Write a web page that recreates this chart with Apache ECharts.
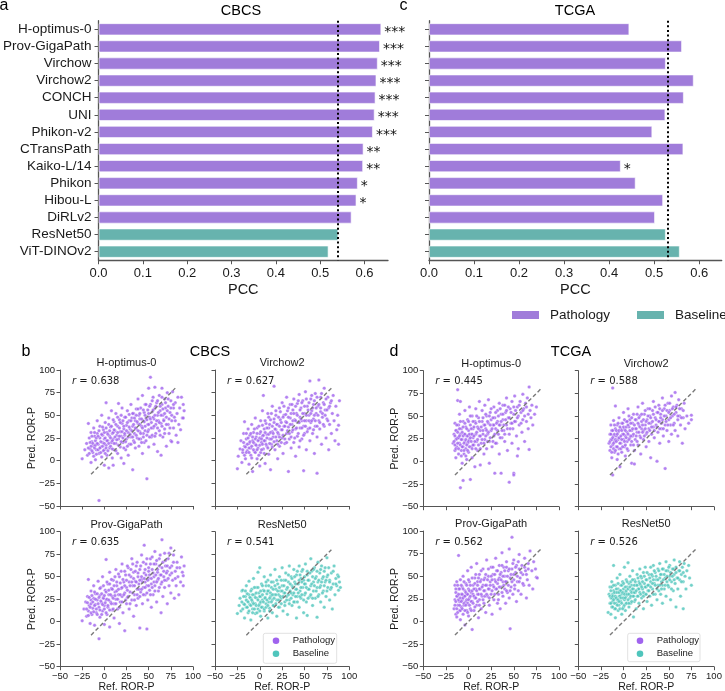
<!DOCTYPE html>
<html><head><meta charset="utf-8">
<script src="https://cdn.jsdelivr.net/npm/echarts@6/dist/echarts.min.js"></script>
<style>html,body{margin:0;padding:0;background:#fff}#c{width:725px;height:691px}</style>
</head><body><div id="c"></div>
<script>
// ---------- data ----------
const models = ['H-optimus-0','Prov-GigaPath','Virchow','Virchow2','CONCH','UNI','Phikon-v2','CTransPath','Kaiko-L/14','Phikon','Hibou-L','DiRLv2','ResNet50','ViT-DINOv2'];
const modelGroup = ['Pathology','Pathology','Pathology','Pathology','Pathology','Pathology','Pathology','Pathology','Pathology','Pathology','Pathology','Pathology','Baseline','Baseline'];
const cbcsPCC = [0.638,0.635,0.630,0.627,0.625,0.623,0.619,0.598,0.597,0.585,0.582,0.571,0.541,0.519];
const cbcsSig = ['***','***','***','***','***','***','***','**','**','*','*','','',''];
const tcgaPCC = [0.445,0.562,0.526,0.588,0.566,0.525,0.496,0.565,0.426,0.459,0.520,0.502,0.526,0.557];
const tcgaSig = ['','','','','','','','','*','','','','',''];
const cbcsRefLine = 0.541;
const tcgaRefLine = 0.526;
const pccTicks = [0,0.1,0.2,0.3,0.4,0.5,0.6];
const rorTicks = [-50,-25,0,25,50,75,100];
const identityLine = [[-15,-15],[80,80]];
const scatterTitles = ['H-optimus-0','Virchow2','Prov-GigaPath','ResNet50'];
const cbcsR = ['0.638','0.627','0.635','0.541'];
const tcgaR = ['0.445','0.588','0.562','0.526'];

const cbcsHopt = [[-25,2],[-22,12],[-20,19],[-19,6],[-18,41],[-17,25],[-16,13],[-15,31],[-15,-2],[-14,21],[-13,9],[-12,36],[-12,16],[-11,27],[-10,1],[-10,22],[-9,12],[-8,30],[-8,44],[-7,18],[-6,-44],[-6,8],[-5,25],[-5,38],[-4,15],[-3,50],[-3,4],[-2,28],[-2,20],[-1,34],[0,-5],[0,12],[0,24],[1,42],[2,64],[2,17],[3,31],[3,6],[4,22],[5,47],[5,-8],[6,27],[6,14],[7,37],[8,20],[8,55],[9,3],[9,30],[10,-5],[10,24],[11,43],[11,12],[12,33],[13,19],[13,52],[14,28],[15,8],[15,38],[16,63],[16,24],[17,45],[18,15],[18,32],[19,3],[19,27],[20,41],[20,58],[21,20],[22,-3],[22,35],[23,28],[23,48],[24,12],[25,39],[25,24],[26,55],[27,31],[27,6],[28,44],[28,18],[29,35],[30,62],[30,26],[31,47],[32,-10],[32,38],[33,22],[33,52],[34,30],[35,14],[35,44],[36,57],[36,35],[37,25],[38,68],[38,41],[39,50],[39,16],[40,32],[40,46],[41,58],[41,24],[42,38],[43,72],[43,8],[44,44],[44,30],[45,53],[45,20],[46,62],[46,38],[47,47],[48,28],[48,-20],[49,56],[49,40],[50,80],[50,34],[50,15],[51,48],[52,92],[52,62],[53,26],[53,42],[54,54],[55,36],[55,70],[56,18],[56,46],[57,81],[57,58],[58,30],[58,40],[59,64],[60,50],[60,10],[61,44],[62,72],[62,33],[63,55],[64,6],[64,41],[65,80],[65,62],[66,26],[66,50],[67,45],[68,68],[68,35],[69,58],[70,16],[70,48],[71,75],[72,40],[72,60],[73,30],[74,53],[75,66],[75,22],[76,21],[76,44],[77,76],[78,58],[78,36],[79,48],[80,64],[81,28],[82,52],[83,20],[83,70],[84,40],[85,58],[86,34],[87,70],[88,47],[89,47],[90,55],[89,62]];
const cbcsHoptCore = [[-18,14],[-17,8],[-16,20],[-15,16],[-14,11],[-14,27],[-13,19],[-12,5],[-11,14],[-11,31],[-10,17],[-9,25],[-9,7],[-8,19],[-7,12],[-7,27],[-6,33],[-5,14],[-4,21],[-4,9],[-3,29],[-2,16],[-2,37],[-1,11],[0,19],[0,31],[1,25],[1,8],[2,14],[2,36],[3,22],[4,29],[4,11],[5,19],[5,40],[6,33],[7,16],[7,25],[8,38],[9,13],[9,22],[10,31],[10,45],[11,19],[11,34],[12,26],[13,11],[13,40],[14,23],[15,31],[15,48],[16,17],[17,36],[17,27],[18,42],[19,21],[19,50],[20,32],[21,25],[21,44],[22,14],[22,38],[23,30],[24,48],[24,21],[25,33],[26,42],[26,16],[27,26],[28,51],[28,37],[29,29],[30,44],[30,18],[31,33],[32,52],[32,26],[33,40],[34,47],[34,20],[35,36],[36,28],[36,50],[37,43],[38,33],[38,57],[39,24],[40,40],[40,52],[41,30],[42,46],[42,20],[43,36],[44,56],[44,26],[45,43],[46,33],[46,50],[47,62],[47,22],[48,45],[49,32],[50,52],[50,40],[51,26],[51,60],[52,46],[53,36],[54,66],[54,28],[55,48],[55,56],[56,38],[57,50],[57,27],[58,60],[59,44],[60,36],[60,66],[61,53],[62,42],[63,60],[63,28],[64,50],[65,70],[65,38],[66,57],[67,44],[68,52],[68,30],[69,64],[70,40],[71,55],[72,68],[73,46],[74,36],[75,58],[76,50],[78,62],[80,44]];
const cbcsV2 = [[-25,-9],[-24,5],[-22,13],[-21,22],[-20,-2],[-19,9],[-18,30],[-17,43],[-17,16],[-16,2],[-15,24],[-14,11],[-13,35],[-12,-4],[-12,19],[-11,28],[-10,6],[-10,14],[-9,40],[-8,22],[-8,-12],[-7,31],[-6,10],[-5,18],[-5,47],[-4,26],[-3,2],[-3,36],[-2,14],[-1,23],[0,-6],[0,30],[1,9],[1,44],[2,20],[3,55],[3,27],[4,72],[4,13],[5,35],[6,-3],[6,22],[7,41],[8,16],[8,29],[9,52],[10,7],[10,36],[11,24],[12,45],[12,-10],[13,18],[14,60],[14,32],[15,26],[16,82],[16,42],[17,12],[18,34],[18,50],[19,22],[20,2],[20,40],[21,29],[22,58],[22,16],[23,45],[24,34],[25,25],[25,64],[26,8],[27,38],[27,50],[28,19],[29,43],[30,30],[30,70],[31,55],[32,-12],[32,37],[33,24],[34,47],[34,62],[35,14],[36,40],[36,32],[37,56],[38,68],[38,20],[39,45],[40,35],[40,5],[41,52],[42,27],[42,63],[43,42],[44,73],[44,15],[45,48],[45,36],[46,58],[47,24],[47,44],[48,66],[49,-11],[49,38],[50,52],[50,30],[51,76],[52,44],[52,12],[53,60],[54,35],[55,50],[56,88],[56,22],[57,68],[57,42],[58,55],[59,30],[60,62],[60,46],[61,8],[62,38],[62,74],[63,52],[64,-14],[64,26],[65,60],[66,89],[66,44],[67,35],[68,70],[68,54],[69,18],[70,48],[71,64],[72,38],[72,80],[73,56],[74,25],[75,46],[76,70],[77,12],[77,58],[78,40],[79,64],[80,30],[81,52],[82,72],[83,44],[84,22],[85,60],[86,34],[87,50],[88,39],[88,18],[89,66]];
const cbcsV2Core = [[-19,12],[-18,20],[-17,6],[-16,15],[-15,9],[-15,30],[-14,18],[-13,25],[-12,9],[-12,14],[-11,21],[-10,30],[-9,16],[-9,3],[-8,26],[-7,12],[-7,20],[-6,35],[-5,9],[-5,24],[-4,17],[-3,30],[-3,12],[-2,22],[-1,38],[-1,6],[0,17],[0,25],[1,32],[2,12],[2,24],[3,39],[3,18],[4,28],[5,8],[5,22],[6,44],[6,31],[7,18],[8,25],[8,36],[9,14],[10,29],[10,48],[11,19],[11,40],[12,31],[13,24],[13,52],[14,15],[14,38],[15,30],[16,21],[16,46],[17,35],[18,26],[18,55],[19,40],[20,18],[20,31],[21,48],[22,38],[22,26],[23,54],[24,20],[24,42],[25,34],[26,48],[26,28],[27,60],[28,38],[28,24],[29,51],[30,42],[30,20],[31,33],[32,48],[32,58],[33,30],[34,40],[35,52],[35,26],[36,62],[37,44],[37,34],[38,52],[39,25],[40,44],[40,60],[41,36],[42,50],[43,30],[43,66],[44,42],[45,56],[45,22],[46,46],[47,36],[47,64],[48,52],[49,28],[50,44],[50,60],[51,38],[52,68],[52,50],[53,32],[54,56],[55,44],[55,64],[56,36],[57,52],[58,72],[58,44],[59,58],[60,34],[61,50],[61,66],[62,44],[63,58],[64,38],[64,70],[65,50],[66,62],[67,42],[68,58],[69,74],[70,52],[71,40],[72,62],[73,50],[74,68],[75,56],[76,44],[78,60],[80,66]];
const cbcsPG = [[-25,1],[-23,14],[-21,22],[-20,6],[-19,28],[-18,47],[-18,12],[-17,18],[-16,-2],[-15,34],[-15,24],[-14,8],[-13,15],[-12,40],[-12,26],[-11,-4],[-10,19],[-10,31],[-9,10],[-8,24],[-7,45],[-6,-19],[-6,16],[-5,29],[-5,5],[-4,38],[-3,21],[-2,12],[-2,50],[-1,27],[0,-3],[0,18],[1,35],[2,69],[2,24],[3,8],[4,42],[4,16],[5,30],[6,55],[6,-6],[7,22],[8,37],[9,13],[9,28],[10,46],[11,20],[11,4],[12,33],[13,58],[13,25],[14,40],[15,14],[16,30],[17,50],[17,-2],[18,22],[19,37],[20,64],[20,28],[21,10],[22,44],[23,-10],[23,32],[24,52],[25,20],[25,38],[26,27],[27,60],[28,44],[28,14],[29,33],[30,50],[31,24],[31,70],[32,40],[33,6],[33,55],[34,30],[35,45],[36,18],[36,62],[37,36],[38,50],[38,26],[39,42],[40,-7],[40,58],[41,33],[42,74],[42,47],[43,20],[44,38],[45,85],[45,54],[46,30],[46,44],[47,64],[48,-8],[48,40],[49,24],[50,56],[50,48],[51,35],[52,70],[53,42],[53,16],[54,58],[55,30],[56,50],[57,78],[57,40],[58,64],[59,22],[60,46],[60,55],[61,34],[62,70],[63,52],[64,10],[64,42],[65,91],[65,60],[66,28],[67,50],[68,76],[68,38],[69,62],[70,46],[71,20],[71,56],[72,70],[73,40],[74,52],[75,82],[75,32],[76,62],[77,46],[78,74],[79,26],[80,56],[81,40],[82,66],[83,50],[84,30],[85,60],[86,44],[87,72],[88,55],[89,40],[89,51],[90,62]];
const cbcsPGCore = [[-20,14],[-19,21],[-18,7],[-17,27],[-16,16],[-15,10],[-15,20],[-14,29],[-13,22],[-12,11],[-11,18],[-11,33],[-10,25],[-9,14],[-8,31],[-8,8],[-7,20],[-6,27],[-5,37],[-5,13],[-4,23],[-3,31],[-3,8],[-2,19],[-1,26],[-1,40],[0,14],[0,29],[1,21],[2,33],[2,10],[3,25],[3,44],[4,18],[5,35],[5,24],[6,13],[6,42],[7,30],[8,20],[8,47],[9,36],[10,26],[10,14],[11,40],[12,29],[12,50],[13,20],[14,34],[14,44],[15,25],[16,53],[16,36],[17,16],[18,43],[18,30],[19,56],[20,22],[20,38],[21,47],[22,30],[23,56],[23,40],[24,24],[25,46],[26,35],[26,62],[27,28],[28,52],[29,40],[29,20],[30,58],[31,44],[32,32],[32,64],[33,48],[34,24],[34,40],[35,56],[36,44],[37,30],[37,66],[38,54],[39,36],[40,46],[40,28],[41,62],[42,50],[42,36],[43,44],[44,66],[44,30],[45,48],[46,58],[46,38],[47,52],[48,70],[48,32],[49,46],[50,60],[50,40],[51,52],[52,30],[52,64],[53,48],[54,38],[54,72],[55,54],[56,44],[56,64],[57,34],[58,52],[59,68],[59,44],[60,58],[61,48],[62,38],[62,62],[63,74],[64,52],[65,44],[66,66],[67,56],[68,46],[69,68],[70,54],[71,62],[72,48],[73,76],[74,60],[76,54],[78,66],[80,48],[82,60]];
const cbcsR50 = [[-25,9],[-23,18],[-22,26],[-21,12],[-20,34],[-19,35],[-18,20],[-17,4],[-16,28],[-15,16],[-15,40],[-14,23],[-13,10],[-12,30],[-12,45],[-11,19],[-10,26],[-10,2],[-9,36],[-8,14],[-8,22],[-7,48],[-6,30],[-5,9],[-5,20],[-4,38],[-3,26],[-2,14],[-2,55],[-1,32],[0,60],[0,20],[1,6],[1,28],[2,42],[3,16],[3,24],[4,35],[5,50],[5,12],[6,27],[7,20],[7,40],[8,31],[9,4],[9,46],[10,22],[10,34],[11,15],[12,28],[12,52],[13,38],[14,24],[14,10],[15,44],[16,30],[16,18],[17,58],[18,36],[19,24],[19,6],[20,42],[21,30],[22,50],[22,16],[23,34],[24,26],[25,60],[25,40],[26,12],[27,32],[27,46],[28,22],[29,54],[30,36],[30,28],[31,8],[32,44],[33,62],[33,24],[34,34],[35,50],[36,18],[36,40],[37,30],[38,58],[39,44],[39,22],[40,36],[41,4],[41,52],[42,28],[43,42],[44,62],[44,16],[45,34],[46,48],[46,26],[47,56],[48,38],[49,10],[49,46],[50,30],[51,64],[51,42],[52,22],[53,7],[53,52],[54,36],[55,46],[56,28],[57,70],[57,40],[58,56],[59,18],[60,44],[60,34],[61,60],[62,26],[63,50],[64,5],[64,38],[65,66],[65,44],[66,30],[67,54],[68,22],[68,40],[69,62],[70,48],[71,34],[72,16],[72,56],[73,44],[74,28],[75,71],[75,50],[76,38],[77,60],[78,24],[78,46],[79,36],[80,54],[81,14],[82,42],[83,62],[84,30],[85,48],[86,40],[87,52],[88,50],[88,35],[89,44],[90,38]];
const cbcsR50Core = [[-20,22],[-19,14],[-18,28],[-17,19],[-16,34],[-15,24],[-14,16],[-14,31],[-13,22],[-12,12],[-11,27],[-10,34],[-10,18],[-9,24],[-8,10],[-8,30],[-7,20],[-6,38],[-6,14],[-5,27],[-4,18],[-4,32],[-3,10],[-2,24],[-2,38],[-1,18],[0,28],[0,12],[1,34],[1,22],[2,16],[3,30],[3,40],[4,22],[5,14],[5,34],[6,26],[7,44],[7,16],[8,24],[9,34],[9,18],[10,40],[11,26],[11,12],[12,32],[13,22],[13,44],[14,30],[15,18],[15,36],[16,26],[17,40],[18,20],[18,30],[19,46],[20,34],[21,24],[21,16],[22,38],[23,28],[24,46],[24,20],[25,34],[26,28],[27,40],[28,18],[28,32],[29,46],[30,24],[31,38],[32,30],[32,52],[33,20],[34,42],[35,32],[35,26],[36,48],[37,38],[38,22],[38,32],[39,50],[40,28],[40,42],[41,36],[42,56],[42,22],[43,32],[44,46],[45,28],[45,52],[46,38],[47,30],[47,44],[48,58],[49,24],[50,42],[50,50],[51,32],[52,38],[53,56],[54,26],[54,46],[55,36],[56,54],[57,30],[58,42],[59,50],[59,26],[60,58],[61,40],[62,48],[63,34],[64,56],[65,28],[66,46],[67,38],[68,58],[69,44],[70,32],[71,50],[72,40],[73,60],[74,46],[75,34],[76,52],[78,44],[80,38],[82,56],[85,42]];
const tcgaHopt = [[-17,20],[-16,30],[-15,12],[-15,42],[-14,24],[-14,4],[-13,34],[-13,16],[-12,79],[-12,67],[-12,26],[-11,8],[-11,40],[-10,20],[-10,52],[-9,66],[-9,-29],[-9,30],[-8,12],[-8,36],[-7,24],[-7,-2],[-6,-21],[-6,44],[-6,16],[-5,30],[-5,8],[-4,22],[-4,56],[-3,38],[-3,14],[-2,28],[-2,2],[-1,46],[-1,20],[0,34],[0,10],[1,24],[1,60],[2,-20],[2,40],[3,16],[3,30],[4,50],[4,4],[5,26],[5,36],[6,18],[7,44],[7,-6],[8,30],[8,58],[9,22],[10,38],[10,12],[11,48],[12,28],[12,66],[13,-4],[13,34],[14,20],[15,44],[15,56],[16,30],[17,8],[17,40],[18,62],[18,24],[19,36],[20,50],[20,14],[21,30],[22,68],[22,42],[23,-2],[23,22],[24,54],[25,34],[25,46],[26,16],[27,40],[28,60],[28,28],[29,-13],[29,48],[30,36],[31,20],[32,56],[32,44],[33,30],[34,64],[34,8],[35,40],[36,-13],[36,52],[37,26],[38,46],[38,62],[39,34],[40,22],[41,54],[42,40],[42,70],[43,12],[44,48],[45,-23],[45,30],[46,58],[47,42],[48,66],[48,20],[49,36],[50,-13],[50,-15],[50,52],[51,72],[52,44],[53,28],[54,60],[54,6],[55,50],[55,14],[56,40],[57,66],[58,54],[59,32],[60,74],[60,46],[61,58],[62,22],[63,64],[64,44],[65,70],[66,36],[67,82],[67,13],[68,56],[69,48],[70,62],[71,40],[73,52],[75,60]];
const tcgaHoptCore = [[-16,22],[-15,28],[-15,18],[-14,34],[-14,14],[-13,25],[-13,40],[-12,20],[-12,32],[-11,14],[-11,26],[-10,36],[-10,28],[-9,18],[-9,44],[-8,24],[-8,6],[-7,32],[-7,16],[-6,28],[-6,38],[-5,20],[-5,12],[-4,30],[-4,42],[-3,24],[-3,6],[-2,36],[-2,18],[-1,28],[-1,12],[0,22],[0,44],[1,30],[1,16],[2,26],[2,50],[3,36],[3,22],[4,14],[4,30],[5,44],[5,18],[6,28],[6,38],[7,22],[8,14],[8,42],[9,32],[9,50],[10,24],[11,36],[11,18],[12,44],[13,28],[13,14],[14,38],[15,24],[16,48],[16,34],[17,20],[18,40],[19,28],[19,52],[20,34],[21,22],[21,44],[22,32],[23,50],[24,26],[24,40],[25,58],[26,36],[27,22],[27,48],[28,40],[29,30],[30,54],[30,20],[31,42],[32,34],[33,50],[34,40],[35,26],[35,58],[36,44],[37,34],[38,52],[39,40],[40,30],[40,62],[41,46],[42,56],[43,36],[44,60],[45,48],[46,36],[47,54],[48,42],[50,60],[51,44],[52,56],[54,48],[56,62],[58,42],[60,56],[62,50],[64,60],[66,52]];
const tcgaV2 = [[-16,20],[-15,30],[-15,12],[-14,40],[-14,24],[-13,4],[-13,34],[-12,81],[-12,-15],[-12,18],[-11,28],[-11,45],[-10,10],[-10,22],[-9,61],[-9,36],[-8,16],[-8,28],[-7,2],[-7,40],[-6,24],[-6,32],[-5,14],[-5,48],[-4,26],[-4,-6],[-3,36],[-3,20],[-2,42],[-2,10],[-1,30],[0,24],[0,54],[1,16],[1,36],[2,28],[2,6],[3,44],[4,22],[4,32],[5,58],[5,12],[6,38],[7,26],[7,46],[8,18],[9,34],[9,-2],[10,42],[10,28],[11,52],[12,12],[12,-3],[13,36],[13,24],[14,46],[15,32],[16,60],[16,18],[17,40],[18,28],[18,50],[19,8],[20,36],[20,44],[21,64],[22,24],[22,34],[23,52],[24,40],[25,16],[25,30],[26,46],[27,58],[28,36],[28,22],[29,50],[30,42],[30,4],[31,30],[32,56],[33,38],[33,66],[34,26],[35,48],[36,40],[37,0],[37,54],[38,32],[39,62],[40,44],[40,20],[41,52],[42,36],[43,70],[43,46],[44,28],[45,58],[46,-8],[46,40],[47,50],[48,34],[49,64],[50,46],[50,22],[51,56],[52,40],[53,72],[53,30],[54,50],[55,60],[56,42],[57,76],[57,34],[58,54],[59,62],[60,46],[60,28],[61,68],[62,50],[63,40],[64,58],[65,20],[66,48],[67,64],[68,36],[70,50],[72,42],[75,51],[75,46]];
const tcgaV2Core = [[-15,22],[-14,16],[-14,30],[-13,24],[-13,10],[-12,34],[-12,26],[-11,20],[-11,14],[-10,30],[-10,40],[-9,24],[-9,12],[-8,34],[-8,22],[-7,30],[-7,16],[-6,42],[-6,8],[-5,26],[-5,34],[-4,20],[-4,38],[-3,28],[-3,14],[-2,34],[-2,24],[-1,42],[-1,16],[0,30],[0,38],[1,22],[1,46],[2,34],[2,18],[3,26],[3,38],[4,44],[4,14],[5,30],[5,40],[6,24],[6,50],[7,34],[8,28],[8,42],[9,22],[9,48],[10,36],[11,30],[11,18],[12,40],[13,46],[14,28],[14,36],[15,52],[15,22],[16,42],[17,32],[17,48],[18,38],[19,26],[20,52],[21,40],[21,32],[22,46],[23,28],[24,56],[24,36],[25,44],[26,32],[27,50],[28,42],[29,34],[29,58],[30,48],[31,38],[32,44],[33,52],[34,34],[35,60],[36,46],[37,38],[38,54],[39,44],[40,36],[40,58],[41,48],[42,42],[43,56],[44,36],[45,50],[46,62],[47,44],[48,56],[49,40],[50,54],[51,64],[52,48],[54,58],[55,40],[56,52],[58,60],[60,50],[62,58],[64,48],[66,56]];
const tcgaPG = [[-16,14],[-15,40],[-15,24],[-14,8],[-14,32],[-13,5],[-13,44],[-12,18],[-12,28],[-11,73],[-11,36],[-10,12],[-10,22],[-9,46],[-9,2],[-8,30],[-8,16],[-7,38],[-7,24],[-6,8],[-6,50],[-5,28],[-5,18],[-4,-4],[-4,34],[-3,22],[-3,42],[-2,12],[-2,30],[-1,56],[-1,20],[0,36],[0,6],[1,26],[1,44],[2,14],[3,32],[3,60],[4,-9],[4,22],[5,40],[5,30],[6,12],[7,48],[7,26],[8,36],[9,18],[9,64],[10,30],[10,44],[11,4],[12,24],[12,52],[13,36],[14,14],[14,46],[15,28],[16,40],[16,58],[17,20],[18,34],[18,48],[19,10],[20,40],[20,68],[21,28],[22,50],[23,36],[23,18],[24,44],[25,60],[25,30],[26,8],[27,40],[27,52],[28,24],[29,46],[30,36],[30,70],[31,56],[32,20],[32,42],[33,30],[34,62],[34,48],[35,14],[36,38],[36,54],[37,76],[38,28],[38,44],[39,60],[40,36],[40,50],[41,20],[42,66],[42,44],[43,32],[44,56],[45,26],[45,80],[46,-8],[46,48],[47,38],[48,93],[48,58],[49,30],[50,46],[50,68],[51,40],[52,54],[53,22],[53,62],[54,44],[55,34],[56,58],[56,74],[57,48],[58,30],[59,62],[60,52],[61,40],[62,70],[63,56],[64,26],[65,46],[66,64],[67,40],[68,78],[70,56],[71,36],[72,66],[74,58],[75,49],[76,48]];
const tcgaPGCore = [[-15,18],[-14,22],[-14,36],[-13,28],[-13,14],[-12,40],[-12,10],[-11,24],[-11,30],[-10,18],[-10,36],[-9,26],[-9,12],[-8,40],[-8,22],[-7,30],[-7,14],[-6,26],[-6,36],[-5,20],[-5,44],[-4,28],[-4,12],[-3,32],[-3,18],[-2,40],[-2,24],[-1,30],[-1,10],[0,24],[0,46],[1,34],[1,18],[2,28],[2,40],[3,22],[3,12],[4,34],[4,48],[5,20],[6,36],[6,28],[7,16],[7,42],[8,26],[8,52],[9,34],[10,22],[10,40],[11,30],[11,48],[12,18],[12,36],[13,44],[14,30],[14,56],[15,38],[16,24],[17,46],[17,34],[18,28],[19,52],[19,40],[20,30],[21,46],[22,36],[22,58],[23,26],[24,40],[25,50],[26,34],[26,46],[27,60],[28,38],[29,30],[29,52],[30,44],[31,36],[32,56],[33,46],[33,24],[34,38],[35,52],[36,46],[37,32],[37,62],[38,50],[39,40],[40,56],[41,44],[42,34],[42,60],[43,50],[44,40],[45,58],[46,34],[47,52],[48,44],[49,64],[50,52],[51,36],[52,60],[54,50],[55,66],[56,44],[58,54],[60,42],[62,60],[64,52],[66,58]];
const tcgaR50 = [[-17,10],[-16,30],[-15,20],[-15,38],[-14,26],[-14,8],[-13,44],[-13,16],[-12,30],[-12,22],[-11,62],[-11,34],[-10,14],[-10,26],[-9,40],[-9,4],[-8,20],[-8,32],[-7,48],[-7,24],[-6,12],[-6,36],[-5,28],[-5,18],[-4,52],[-4,34],[-3,22],[-3,40],[-2,8],[-2,30],[-1,26],[-1,44],[0,16],[0,36],[1,60],[1,24],[2,32],[2,12],[3,46],[3,28],[4,20],[4,38],[5,65],[5,30],[6,16],[6,42],[7,26],[7,50],[8,34],[8,20],[9,40],[10,28],[10,56],[11,5],[11,36],[12,22],[12,46],[13,32],[14,40],[14,14],[15,52],[15,28],[16,36],[17,44],[17,20],[18,58],[18,32],[19,40],[20,26],[20,48],[21,36],[22,14],[22,54],[23,42],[24,30],[24,60],[25,38],[26,46],[26,22],[27,34],[28,52],[28,40],[29,28],[30,60],[30,44],[31,18],[32,36],[32,50],[33,62],[34,42],[35,30],[35,54],[36,46],[37,24],[38,40],[38,58],[39,34],[40,64],[40,48],[41,30],[42,52],[43,40],[43,20],[44,58],[45,36],[46,48],[47,66],[47,28],[48,44],[49,56],[50,38],[51,62],[51,50],[52,24],[53,44],[54,58],[55,34],[56,68],[56,52],[57,42],[58,16],[58,60],[59,48],[60,36],[61,56],[62,66],[62,46],[63,28],[64,52],[65,60],[66,14],[66,44],[67,64],[68,50],[69,36],[70,56],[72,62],[73,48],[75,40]];
const tcgaR50Core = [[-15,28],[-14,20],[-14,34],[-13,26],[-13,38],[-12,16],[-12,28],[-11,24],[-11,40],[-10,20],[-10,32],[-9,28],[-9,14],[-8,36],[-8,26],[-7,18],[-7,32],[-6,24],[-6,42],[-5,32],[-5,22],[-4,28],[-4,14],[-3,34],[-3,26],[-2,40],[-2,20],[-1,32],[-1,14],[0,26],[0,42],[1,30],[1,18],[2,38],[2,26],[3,34],[3,20],[4,30],[4,44],[5,24],[5,36],[6,30],[6,20],[7,38],[8,28],[8,44],[9,32],[9,22],[10,36],[10,46],[11,28],[12,40],[12,32],[13,24],[13,44],[14,34],[15,40],[16,28],[16,48],[17,36],[18,42],[19,30],[19,50],[20,38],[21,44],[22,32],[22,28],[23,50],[24,38],[25,46],[25,30],[26,54],[27,40],[28,34],[29,48],[30,38],[31,52],[32,42],[33,30],[33,46],[34,56],[35,40],[36,50],[37,36],[38,46],[39,56],[40,40],[41,52],[42,44],[42,36],[43,58],[44,46],[45,52],[46,40],[47,56],[48,50],[49,40],[50,60],[51,46],[52,54],[53,36],[54,50],[55,58],[56,46],[58,54],[60,48],[62,56],[64,44],[66,54]];

// ---------- styles ----------
const FONT = '"Liberation Sans", Arial, sans-serif';
const barPurple = '#a07cda', barTeal = '#67b3ae';
const ptPurple = '#a063ee', ptTeal = '#4fc5bc';
const axisCol = '#555', txtCol = '#1a1a1a';

const chart = echarts.init(document.getElementById('c'), null, {renderer:'canvas'});

const grids = [], xAxes = [], yAxes = [], series = [], graphic = [];

// ---- bar panels ----
const barPanels = [
  {rect:[95,20.75,293,239.5], vals:cbcsPCC, sig:cbcsSig, ref:cbcsRefLine, max:0.653, showY:true},
  {rect:[429,20.75,292.7,239.5], vals:tcgaPCC, sig:tcgaSig, ref:tcgaRefLine, max:0.65, showY:false}
];
barPanels.forEach((p,i)=>{
  grids.push({left:p.rect[0], top:p.rect[1], width:p.rect[2], height:p.rect[3], containLabel:false});
  xAxes.push({gridIndex:i, type:'value', min:0, max:p.max,
    axisLine:{show:true, lineStyle:{color:axisCol, width:1.3}},
    axisTick:{show:true, length:4, lineStyle:{color:axisCol}, customValues:pccTicks},
    axisLabel:{fontSize:13, color:txtCol, fontFamily:FONT, margin:7, customValues:pccTicks, formatter:v=>v.toFixed(1)},
    splitLine:{show:false},
    name:'PCC', nameLocation:'middle', nameGap:22, nameTextStyle:{fontSize:14.5, color:txtCol, fontFamily:FONT}
  });
  yAxes.push({gridIndex:i, type:'category', data:models, inverse:true,
    axisLine:{show:true, lineStyle:{color:axisCol, width:1.3}},
    axisTick:{show:true, length:4, alignWithLabel:true, interval:0, lineStyle:{color:axisCol}},
    axisLabel:{show:p.showY, interval:0, fontSize:13.5, color:txtCol, fontFamily:FONT, margin:7},
    splitLine:{show:false}
  });
  ['Pathology','Baseline'].forEach(g=>{
    const s = {type:'bar', name:g, xAxisIndex:i, yAxisIndex:i, barWidth:'72%', barGap:'-100%',
      data:p.vals.map((v,k)=> modelGroup[k]===g ? v : '-'),
      itemStyle:{color: g==='Pathology'?barPurple:barTeal, borderColor:'rgba(255,255,255,0.6)', borderWidth:1},
      label:{show:true, position:'right', distance:3, offset:[0,3], fontSize:14, color:'#111', fontFamily:'"DejaVu Sans", sans-serif', formatter:q=>p.sig[q.dataIndex]||''},
      silent:true, animation:false};
    if (g==='Pathology') s.markLine = {silent:true, symbol:['none','none'], label:{show:false},
      lineStyle:{type:[2,2.6], color:'#000', width:2}, data:[{xAxis:p.ref}], animation:false};
    series.push(s);
  });
});

// ---- scatter panels ----
const scatterPanels = [
  {rect:[60,370,133,136], d:cbcsHopt.concat(cbcsHoptCore), c:ptPurple, t:0, r:cbcsR[0], xl:false, yl:true},
  {rect:[215,370,134.3,136], d:cbcsV2.concat(cbcsV2Core), c:ptPurple, t:1, r:cbcsR[1], xl:false, yl:false},
  {rect:[60,531.7,133,135], d:cbcsPG.concat(cbcsPGCore), c:ptPurple, t:2, r:cbcsR[2], xl:true, yl:true},
  {rect:[215,531.7,134.3,135], d:cbcsR50.concat(cbcsR50Core), c:ptTeal, t:3, r:cbcsR[3], xl:true, yl:false},
  {rect:[423.3,370.7,135.7,136], d:tcgaHopt.concat(tcgaHoptCore), c:ptPurple, t:0, r:tcgaR[0], xl:false, yl:true},
  {rect:[578.3,370.7,135.7,136], d:tcgaV2.concat(tcgaV2Core), c:ptPurple, t:1, r:tcgaR[1], xl:false, yl:false},
  {rect:[423.3,531,135.7,135.7], d:tcgaPG.concat(tcgaPGCore), c:ptPurple, t:2, r:tcgaR[2], xl:true, yl:true},
  {rect:[578.3,531,135.7,135.7], d:tcgaR50.concat(tcgaR50Core), c:ptTeal, t:3, r:tcgaR[3], xl:true, yl:false}
];
const minus = v => String(v).replace('-','\u2212');
scatterPanels.forEach((p,j)=>{
  const gi = j+2;
  grids.push({left:p.rect[0], top:p.rect[1], width:p.rect[2], height:p.rect[3]});
  const ax = (lab)=>({gridIndex:gi, type:'value', min:rorTicks[0], max:rorTicks[rorTicks.length-1], interval:25,
    axisLine:{show:true, onZero:false, lineStyle:{color:axisCol, width:1}},
    axisTick:{show:true, length:3.5, lineStyle:{color:axisCol}},
    axisLabel:{show:lab, fontSize:9.5, color:txtCol, fontFamily:FONT, margin:5, formatter:minus, showMinLabel:true, showMaxLabel:true},
    splitLine:{show:false}});
  xAxes.push(ax(p.xl));
  yAxes.push(ax(p.yl));
  series.push({type:'scatter', xAxisIndex:gi, yAxisIndex:gi, data:p.d, symbolSize:3.5,
    itemStyle:{color:p.c, borderColor:'#fff', borderWidth:0.4}, silent:true, animation:false, z:2});
  series.push({type:'line', xAxisIndex:gi, yAxisIndex:gi, data:identityLine, symbol:'none',
    lineStyle:{color:'#7a7a7a', width:1.4, type:[4,2.5]}, silent:true, animation:false, z:3});
  const cx = p.rect[0] + p.rect[2]/2;
  graphic.push({type:'text', x:cx, y:p.rect[1]-7, style:{text:scatterTitles[p.t], font:'11px '+FONT, fill:txtCol, textAlign:'center', textVerticalAlign:'middle'}});
  graphic.push({type:'text', x:p.rect[0]+12, y:p.rect[1]+11, style:{text:'{i|r} = '+p.r, rich:{i:{fontStyle:'italic', fontSize:10, fontFamily:'"DejaVu Sans", sans-serif', fill:txtCol}}, font:'10px "DejaVu Sans", sans-serif', fill:txtCol, textAlign:'left', textVerticalAlign:'middle'}});
  if (p.xl) graphic.push({type:'text', x:cx, y:687, style:{text:'Ref. ROR-P', font:'10.5px '+FONT, fill:txtCol, textAlign:'center', textVerticalAlign:'middle'}});
  if (p.yl) graphic.push({type:'text', x:p.rect[0]-28, y:p.rect[1]+p.rect[3]/2, rotation:Math.PI/2, style:{text:'Pred. ROR-P', font:'10.5px '+FONT, fill:txtCol, textAlign:'center', textVerticalAlign:'middle'}});
});

// ---- panel letters & titles ----
const T = (x,y,text,size)=>({type:'text', x, y, style:{text, font:size+'px '+FONT, fill:'#000', textAlign:'center', textVerticalAlign:'middle'}});
graphic.push(T(4,6,'a',16), T(241,11,'CBCS',14.5), T(403.5,5.5,'c',16), T(575,11,'TCGA',14.5));
graphic.push(T(26,352,'b',16), T(210,352,'CBCS',14.5), T(394,352,'d',16), T(571,352,'TCGA',14.5));

// ---- bar legend ----
graphic.push({type:'rect', shape:{x:512,y:311,width:27,height:8}, style:{fill:barPurple}});
graphic.push({type:'text', x:550, y:315, style:{text:'Pathology', font:'13.5px '+FONT, fill:txtCol, textAlign:'left', textVerticalAlign:'middle'}});
graphic.push({type:'rect', shape:{x:637,y:311,width:27,height:8}, style:{fill:barTeal}});
graphic.push({type:'text', x:675, y:315, style:{text:'Baseline', font:'13.5px '+FONT, fill:txtCol, textAlign:'left', textVerticalAlign:'middle'}});

// ---- scatter legends ----
[[263.3,633.3,73.4,30,276,292.7],[627.7,633.3,72.3,28.4,640,656.7]].forEach(b=>{
  graphic.push({type:'rect', shape:{x:b[0],y:b[1],width:b[2],height:b[3],r:2}, style:{fill:'rgba(255,255,255,0.85)', stroke:'#d9d9d9', lineWidth:0.8}, z:10});
  graphic.push({type:'circle', shape:{cx:b[4],cy:b[1]+7.5,r:3.3}, style:{fill:ptPurple}, z:11});
  graphic.push({type:'circle', shape:{cx:b[4],cy:b[1]+20.5,r:3.3}, style:{fill:ptTeal}, z:11});
  graphic.push({type:'text', x:b[5], y:b[1]+7.5, z:11, style:{text:'Pathology', font:'9.5px '+FONT, fill:txtCol, textAlign:'left', textVerticalAlign:'middle'}});
  graphic.push({type:'text', x:b[5], y:b[1]+20.5, z:11, style:{text:'Baseline', font:'9.5px '+FONT, fill:txtCol, textAlign:'left', textVerticalAlign:'middle'}});
});

chart.setOption({backgroundColor:'#fff', animation:false, grid:grids, xAxis:xAxes, yAxis:yAxes, series, graphic});
</script></body></html>
